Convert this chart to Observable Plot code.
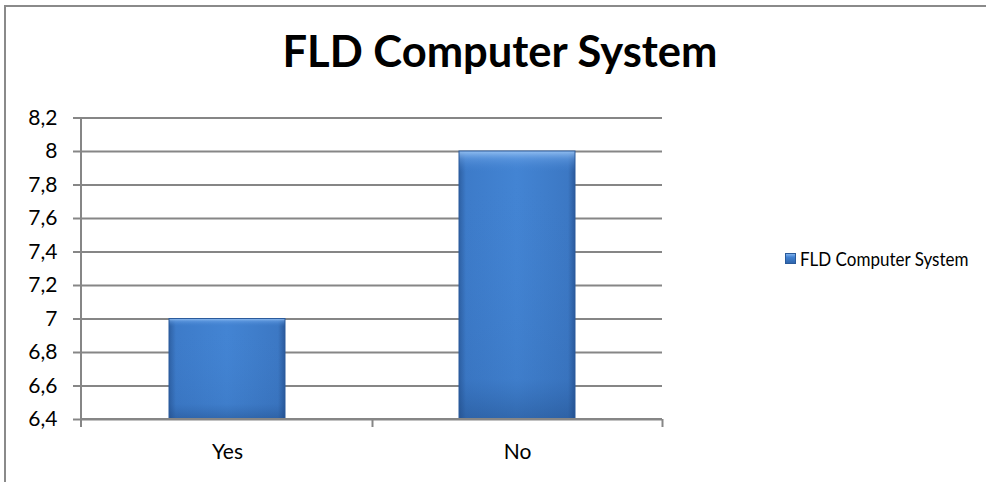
<!DOCTYPE html>
<html>
<head>
<meta charset="utf-8">
<script src="https://cdn.jsdelivr.net/npm/d3@7"></script>
<script src="https://cdn.jsdelivr.net/npm/@observablehq/plot@0.6"></script>
<style>
  html, body { margin: 0; padding: 0; background: #fff; }
  #wrap { position: relative; width: 986px; height: 482px; overflow: hidden; font-family: Lato, "Open Sans", sans-serif; }
  #border { position: absolute; left: 4px; top: 5px; right: -10px; bottom: -10px; border-left: 2px solid #8a8a8a; border-top: 2px solid #8a8a8a; }
  #title { position: absolute; left: 0; width: 1000px; top: 25px; text-align: center; font-weight: 700; font-size: 43.5px; color: #000; line-height: 50px; }
  #chart { position: absolute; left: 0; top: 0; }
  #legend { position: absolute; left: 785px; top: 246px; font-size: 20px; color: #000; display: flex; align-items: center; white-space: nowrap; }
  #legend .sw { width: 11px; height: 11px; margin-right: 4px; background: linear-gradient(180deg, #7fb1ec 0%, #4282d2 35%, #2f66ad 100%); border: 1px solid #2a5a9a; box-sizing: border-box; }
  #legend .lt { display: inline-block; transform: scaleX(0.85); transform-origin: left center; }
</style>
</head>
<body>
<div id="wrap">
  <div id="border"></div>
  <div id="chart"></div>
  <div id="title">FLD Computer System</div>
  <div id="legend"><span class="sw"></span><span class="lt">FLD Computer System</span></div>
</div>
<script>
const seriesName = "FLD Computer System";
const categories = ["Yes", "No"];
const values = [7, 8];
const yTicks = [6.4, 6.6, 6.8, 7, 7.2, 7.4, 7.6, 7.8, 8, 8.2];
const yDomain = [6.4, 8.2];

const data = categories.map((c, i) => ({category: c, value: values[i]}));

const W = 986, H = 482;
const mL = 81, mR = 324, mT = 117.5, mB = 63;
const gridColor = "#868686";

function gradientDefs() {
  const svg = d3.create("svg:g");
  const defs = svg.append("defs");
  const h = defs.append("linearGradient").attr("id", "barH").attr("x1", 0).attr("x2", 1).attr("y1", 0).attr("y2", 0);
  h.append("stop").attr("offset", "0%").attr("stop-color", "#2e60a3");
  h.append("stop").attr("offset", "6%").attr("stop-color", "#3d7bc9");
  h.append("stop").attr("offset", "50%").attr("stop-color", "#4384d3");
  h.append("stop").attr("offset", "94%").attr("stop-color", "#3c78c4");
  h.append("stop").attr("offset", "100%").attr("stop-color", "#2b5a9c");
  const v = defs.append("linearGradient").attr("id", "barV").attr("x1", 0).attr("x2", 0).attr("y1", 0).attr("y2", 1);
  v.append("stop").attr("offset", "0%").attr("stop-color", "#9cc6f5").attr("stop-opacity", 0.9);
  v.append("stop").attr("offset", "3%").attr("stop-color", "#6aa2e6").attr("stop-opacity", 0.5);
  v.append("stop").attr("offset", "8%").attr("stop-color", "#3f7fcf").attr("stop-opacity", 0);
  v.append("stop").attr("offset", "85%").attr("stop-color", "#1f4f90").attr("stop-opacity", 0.12);
  v.append("stop").attr("offset", "100%").attr("stop-color", "#1c467f").attr("stop-opacity", 0.45);
  return svg.node();
}

function axisLines(index, scales, values, dims) {
  const g = d3.create("svg:g").attr("stroke", gridColor).attr("stroke-width", 2).attr("fill", "none");
  const left = dims.marginLeft, right = dims.width - dims.marginRight;
  const top = dims.marginTop, bottom = dims.height - dims.marginBottom;
  const x = scales.x;
  const step = (right - left) / categories.length;
  g.append("line").attr("x1", left).attr("x2", left).attr("y1", top).attr("y2", bottom + 8);
  g.append("line").attr("x1", left).attr("x2", right).attr("y1", bottom).attr("y2", bottom);
  categories.forEach(c => {
    const xe = x(c) + step;
    g.append("line").attr("x1", xe).attr("x2", xe).attr("y1", bottom).attr("y2", bottom + 8);
  });
  return g.node();
}

const inset = 87;

const plot = Plot.plot({
  width: W,
  height: H,
  marginLeft: mL,
  marginRight: mR,
  marginTop: mT,
  marginBottom: mB,
  style: {fontFamily: "Lato, Open Sans, sans-serif", fontSize: "21px", color: "#000", background: "transparent"},
  x: {domain: categories, padding: 0, axis: null},
  y: {domain: yDomain, ticks: yTicks, axis: null},
  marks: [
    gradientDefs,
    Plot.gridY(yTicks, {stroke: gridColor, strokeOpacity: 1, strokeWidth: 2}),
    Plot.barY(data, {x: "category", y1: yDomain[0], y2: "value", fill: "url(#barH)", insetLeft: inset, insetRight: inset}),
    Plot.barY(data, {x: "category", y1: yDomain[0], y2: "value", fill: "url(#barV)", stroke: "#2b5b9c", strokeWidth: 1, insetLeft: inset, insetRight: inset}),
    axisLines,
    Plot.axisY(yTicks, {label: null, tickSize: 8, tickPadding: 16, stroke: gridColor, strokeWidth: 2, fill: "#000", fontSize: 21,
      tickFormat: d => String(d).replace(".", ",")}),
    Plot.text(data, {x: "category", y: yDomain[0], text: "category", dy: 33, fontSize: 21, fill: "#000", lineAnchor: "middle"})
  ]
});

document.getElementById("chart").appendChild(plot);
</script>
</body>
</html>
